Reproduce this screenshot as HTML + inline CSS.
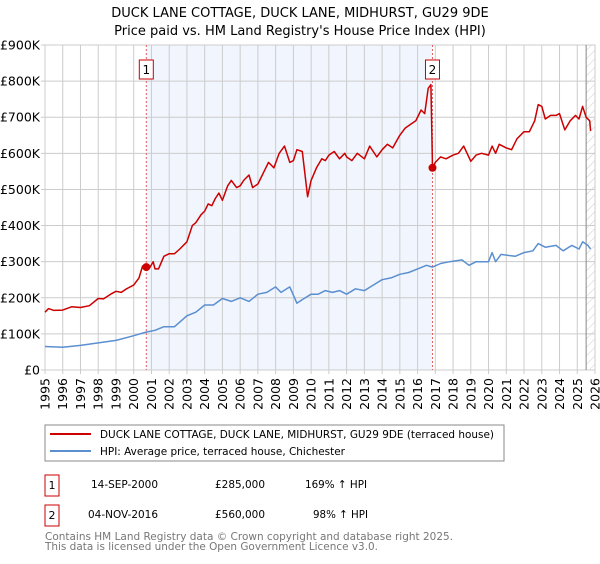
<!DOCTYPE html>
<html><head><meta charset="utf-8"><style>
body{margin:0;background:#fff;font-family:"DejaVu Sans","Liberation Sans",sans-serif;}
svg text{font-family:"DejaVu Sans","Liberation Sans",sans-serif;}
</style></head><body>
<svg id="chart" width="600" height="560" viewBox="0 0 600 560" xmlns="http://www.w3.org/2000/svg">
<defs><pattern id="hatch" width="6" height="6" patternUnits="userSpaceOnUse" patternTransform="rotate(45)"><line x1="0" y1="0" x2="0" y2="6" stroke="#ccc" stroke-width="1"/></pattern></defs>
<text x="300" y="17" text-anchor="middle" font-size="13">DUCK LANE COTTAGE, DUCK LANE, MIDHURST, GU29 9DE</text>
<text x="300" y="35" text-anchor="middle" font-size="13">Price paid vs. HM Land Registry's House Price Index (HPI)</text>
<g id="plot"></g>
<g>
<rect x="45" y="425" width="459" height="36" fill="#fff" stroke="#888"/>
<line x1="50" y1="434" x2="91" y2="434" stroke="#cc0000" stroke-width="2"/>
<text x="100" y="438" font-size="11" textLength="394" lengthAdjust="spacingAndGlyphs">DUCK LANE COTTAGE, DUCK LANE, MIDHURST, GU29 9DE (terraced house)</text>
<line x1="50" y1="451" x2="91" y2="451" stroke="#5b8fd0" stroke-width="2"/>
<text x="100" y="455" font-size="11" textLength="245" lengthAdjust="spacingAndGlyphs">HPI: Average price, terraced house, Chichester</text>
</g>
<g font-size="11">
<rect x="45" y="475" width="14" height="21" fill="#fff" stroke="#cc0000"/>
<text x="52" y="489" text-anchor="middle">1</text>
<text x="91" y="488" textLength="67" lengthAdjust="spacingAndGlyphs">14-SEP-2000</text><text x="215" y="488" textLength="50" lengthAdjust="spacingAndGlyphs">£285,000</text><text x="305" y="488" textLength="62" lengthAdjust="spacingAndGlyphs">169% ↑ HPI</text>
</g>
<g font-size="11">
<rect x="45" y="505" width="14" height="21" fill="#fff" stroke="#cc0000"/>
<text x="52" y="519" text-anchor="middle">2</text>
<text x="88" y="518" textLength="70" lengthAdjust="spacingAndGlyphs">04-NOV-2016</text><text x="215" y="518" textLength="50" lengthAdjust="spacingAndGlyphs">£560,000</text><text x="313" y="518" textLength="55" lengthAdjust="spacingAndGlyphs">98% ↑ HPI</text>
</g>
<text x="45" y="540" font-size="11" fill="#777" textLength="408" lengthAdjust="spacingAndGlyphs">Contains HM Land Registry data © Crown copyright and database right 2025.</text>
<text x="45" y="550" font-size="11" fill="#777" textLength="333" lengthAdjust="spacingAndGlyphs">This data is licensed under the Open Government Licence v3.0.</text>
</svg>
<script>
const yearTicks=[1995,1996,1997,1998,1999,2000,2001,2002,2003,2004,2005,2006,2007,2008,2009,2010,2011,2012,2013,2014,2015,2016,2017,2018,2019,2020,2021,2022,2023,2024,2025,2026];
const valueTicks=[0,100,200,300,400,500,600,700,800,900];
const valueTickLabels=["£0","£100K","£200K","£300K","£400K","£500K","£600K","£700K","£800K","£900K"];
const redDates=[1995.0,1995.2,1995.5,1996,1996.5,1997,1997.5,1998,1998.3,1998.7,1999,1999.3,1999.6,2000,2000.3,2000.5,2000.71,2000.9,2001.1,2001.2,2001.4,2001.7,2002,2002.3,2002.6,2003,2003.3,2003.5,2003.8,2004,2004.2,2004.4,2004.6,2004.8,2005,2005.3,2005.5,2005.8,2006,2006.2,2006.5,2006.7,2007,2007.3,2007.6,2007.9,2008.2,2008.5,2008.8,2009.0,2009.2,2009.5,2009.8,2010,2010.3,2010.6,2010.8,2011,2011.3,2011.6,2011.9,2012,2012.3,2012.6,2013,2013.3,2013.7,2014,2014.3,2014.6,2015,2015.3,2015.6,2015.9,2016.2,2016.4,2016.6,2016.75,2016.84,2017,2017.3,2017.6,2018,2018.3,2018.6,2019,2019.3,2019.6,2020,2020.2,2020.4,2020.6,2021,2021.3,2021.6,2022,2022.3,2022.6,2022.8,2023,2023.2,2023.5,2023.8,2024.0,2024.3,2024.6,2024.9,2025.1,2025.3,2025.5,2025.7,2025.75];
const redValues=[160,170,165,166,175,173,178,198,197,210,218,215,225,235,255,288,285,283,300,280,280,315,322,322,335,355,400,408,430,440,460,455,475,490,470,510,525,505,510,525,540,505,515,545,575,560,600,620,575,580,610,605,480,525,560,585,580,595,605,585,600,590,580,600,585,620,590,610,625,615,650,670,680,690,720,710,780,790,560,575,590,585,595,600,620,578,595,600,595,620,600,625,615,610,640,660,660,690,735,730,695,705,705,710,665,690,705,695,730,700,690,662];
const blueDates=[1995,1996,1997,1998,1999,2000,2000.7,2001.2,2001.7,2002.3,2003,2003.5,2004,2004.5,2005,2005.5,2006,2006.5,2007,2007.5,2008,2008.3,2008.8,2009.2,2009.5,2010,2010.4,2010.8,2011.2,2011.6,2012,2012.5,2013,2013.5,2014,2014.5,2015,2015.5,2016,2016.5,2016.84,2017.3,2017.8,2018.5,2018.9,2019.3,2020,2020.2,2020.4,2020.7,2021.5,2022,2022.5,2022.8,2023.2,2023.8,2024.2,2024.7,2025.1,2025.3,2025.6,2025.75];
const blueValues=[65,63,68,75,82,95,105,110,120,120,150,160,180,180,198,190,200,190,210,215,230,215,230,185,195,210,210,220,215,220,210,225,220,235,250,255,265,270,280,290,285,295,300,305,290,300,300,325,300,320,315,325,330,350,340,345,330,345,335,355,345,335];
const saleDates=[2000.71,2016.84];
const saleValues=[285,560];
const saleLabels=["1","2"];

const X0=45,X1=595,Y0=370,Y1=45;
const xs=d=>X0+(d-1995)/(2026-1995)*(X1-X0);
const ys=v=>Y0-v/900*(Y0-Y1);
const NS="http://www.w3.org/2000/svg";
const plot=document.getElementById('plot');
function mk(tag,attrs,parent){const e=document.createElementNS(NS,tag);for(const k in attrs)e.setAttribute(k,attrs[k]);(parent||plot).appendChild(e);return e;}

const bg=mk('rect',{x:X0,y:Y1,width:X1-X0,height:Y0-Y1,fill:'#fff'});


const shade=mk('rect',{x:xs(saleDates[0]),y:Y1,width:xs(saleDates[1])-xs(saleDates[0]),height:Y0-Y1,fill:'#eef3fc',opacity:0.8});


const hatch=mk('rect',{x:xs(2025.5),y:Y1,width:X1-xs(2025.5),height:Y0-Y1,fill:'url(#hatch)'});



yearTicks.forEach(y=>{
  const l=mk('line',{x1:xs(y),x2:xs(y),y1:Y1,y2:Y0+4,stroke:'#ccc','stroke-width':1});
  
  
  const t=mk('text',{x:0,y:0,'font-size':12.5,'text-anchor':'end',transform:`translate(${xs(y)+4.5},378) rotate(-90)`});
  t.textContent=y;
  
  
});
valueTicks.forEach((v,i)=>{
  const l=mk('line',{x1:X0-4,x2:X1,y1:ys(v),y2:ys(v),stroke:'#ccc','stroke-width':1});
  
  
  const t=mk('text',{x:40,y:ys(v)+4.5,'font-size':12.5,'text-anchor':'end'});
  t.textContent=valueTickLabels[i];
  
  
});
const border=mk('rect',{x:X0,y:Y1,width:X1-X0,height:Y0-Y1,fill:'none',stroke:'#ccc'});


const nowLine=mk('line',{x1:xs(2025.5),x2:xs(2025.5),y1:Y1,y2:Y0,stroke:'#888','stroke-width':1});



saleDates.forEach((d,i)=>{
  const l=mk('line',{x1:xs(d),x2:xs(d),y1:Y1,y2:Y0,stroke:'#e06060','stroke-width':1,'stroke-dasharray':'2,2'});
  
  
});

const pts=(ds,vs)=>ds.map((d,i)=>xs(d).toFixed(1)+','+ys(vs[i]).toFixed(1)).join(' ');
const blue=mk('polyline',{points:pts(blueDates,blueValues),fill:'none',stroke:'#5b8fd0','stroke-width':1.5,'stroke-linejoin':'round'});


const red=mk('polyline',{points:pts(redDates,redValues),fill:'none',stroke:'#cc0000','stroke-width':1.5,'stroke-linejoin':'round'});



saleDates.forEach((d,i)=>{
  const c=mk('circle',{cx:xs(d),cy:ys(saleValues[i]),r:4,fill:'#cc0000'});
  
  
  const b=mk('rect',{x:xs(d)-7,y:60,width:14,height:19,fill:'#fff',stroke:'#cc0000'});
  
  
  const t=mk('text',{x:xs(d),y:74,'font-size':12,'text-anchor':'middle'});
  t.textContent=saleLabels[i];
  
  
});
</script>
</body></html>
